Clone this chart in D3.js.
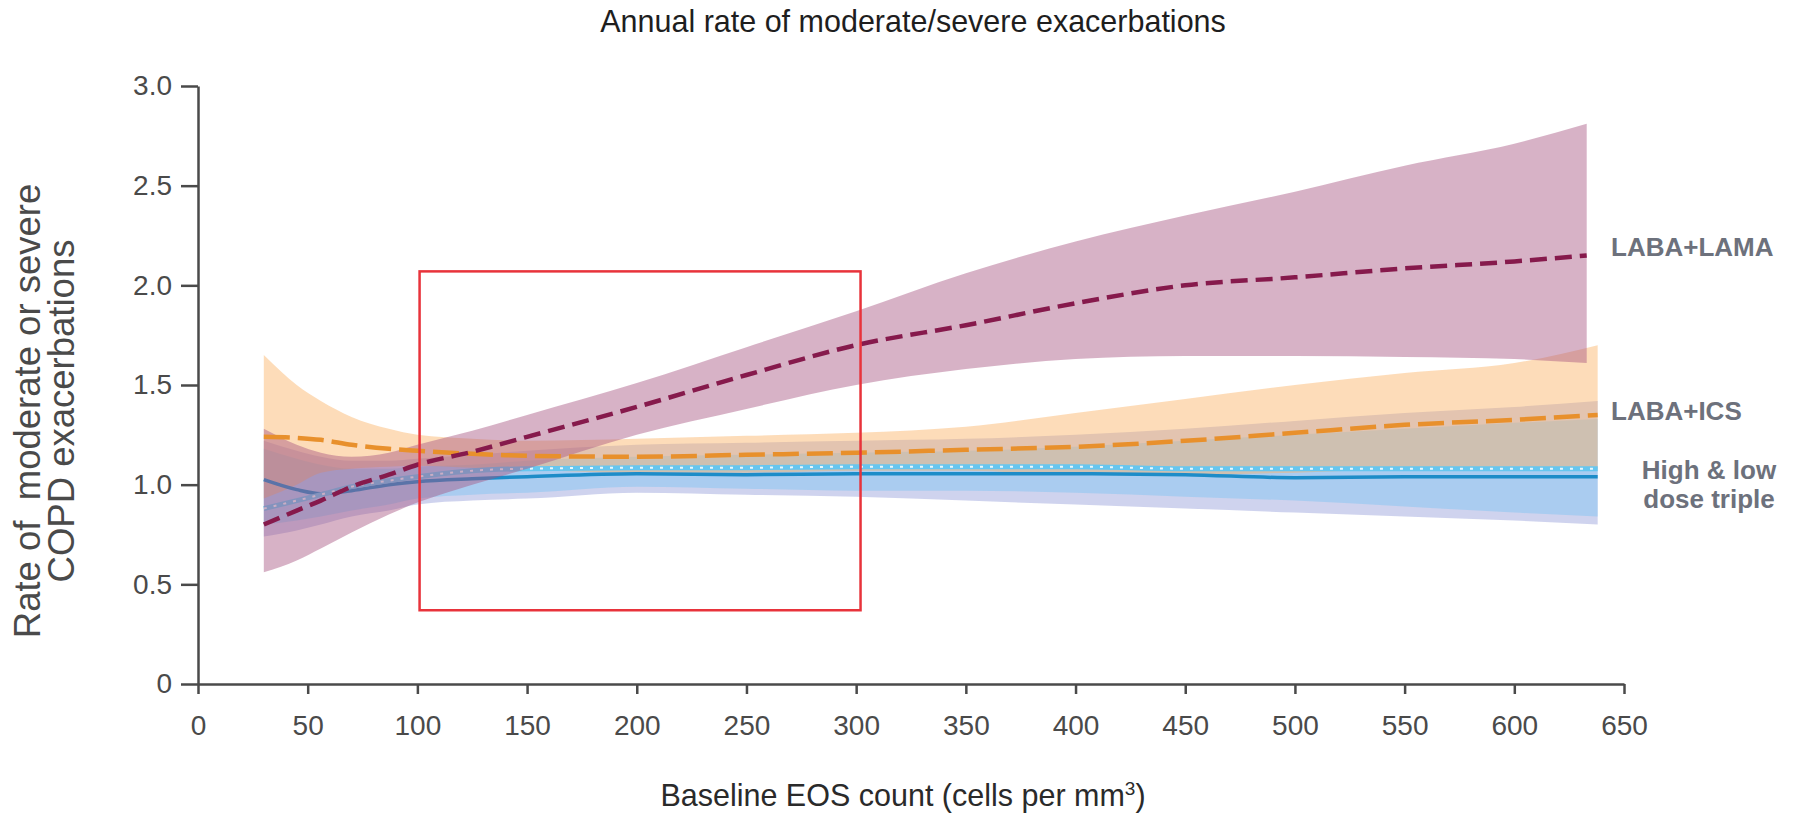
<!DOCTYPE html>
<html>
<head>
<meta charset="utf-8">
<script src="https://cdn.jsdelivr.net/npm/d3@7"></script>
<style>
  html, body { margin: 0; padding: 0; background: #ffffff; }
  svg { display: block; }
  text { font-family: "Liberation Sans", Arial, Helvetica, sans-serif; }
</style>
</head>
<body>
<svg id="chart" width="1793" height="814"></svg>
<script>
// Baseline EOS count grid (cells per mm3) for each model curve
const eosLama = [30, 45, 56, 70, 87, 100, 125, 150, 200, 250, 300, 350, 400, 450, 500, 550, 600, 633];
const eosOther = [30, 45, 56, 70, 87, 100, 125, 150, 200, 250, 300, 350, 400, 450, 500, 550, 600, 638];

// LABA+LAMA: modelled annual rate and 95% CI
const lamaRate  = [0.80, 0.87, 0.92, 0.99, 1.05, 1.10, 1.165, 1.24, 1.39, 1.55, 1.70, 1.80, 1.91, 2.00, 2.04, 2.085, 2.12, 2.15];
const lamaUpper = [1.28, 1.20, 1.16, 1.14, 1.16, 1.20, 1.27, 1.35, 1.51, 1.69, 1.87, 2.06, 2.22, 2.35, 2.47, 2.60, 2.71, 2.81];
const lamaLower = [0.56, 0.62, 0.68, 0.76, 0.85, 0.91, 1.00, 1.08, 1.25, 1.38, 1.50, 1.58, 1.63, 1.645, 1.645, 1.64, 1.63, 1.61];

// LABA+ICS
const icsRate  = [1.24, 1.235, 1.225, 1.20, 1.18, 1.17, 1.155, 1.145, 1.14, 1.15, 1.16, 1.175, 1.19, 1.22, 1.26, 1.30, 1.325, 1.35];
const icsUpper = [1.65, 1.50, 1.42, 1.34, 1.28, 1.25, 1.23, 1.22, 1.23, 1.245, 1.26, 1.29, 1.36, 1.43, 1.50, 1.56, 1.61, 1.70];
const icsLower = [0.93, 1.00, 1.06, 1.08, 1.09, 1.095, 1.085, 1.075, 1.06, 1.06, 1.07, 1.07, 1.05, 1.05, 1.06, 1.08, 1.09, 1.08];

// High dose triple
const highRate  = [1.025, 0.975, 0.955, 0.97, 1.00, 1.015, 1.03, 1.04, 1.055, 1.05, 1.055, 1.055, 1.055, 1.05, 1.035, 1.04, 1.04, 1.04];
const highUpper = [1.18, 1.13, 1.10, 1.08, 1.08, 1.09, 1.10, 1.12, 1.14, 1.15, 1.16, 1.17, 1.19, 1.22, 1.25, 1.28, 1.31, 1.33];
const highLower = [0.80, 0.82, 0.84, 0.87, 0.90, 0.93, 0.95, 0.96, 0.99, 0.98, 0.97, 0.97, 0.96, 0.94, 0.92, 0.89, 0.86, 0.84];

// Low dose triple
const lowRate  = [0.88, 0.92, 0.95, 0.99, 1.02, 1.04, 1.07, 1.08, 1.085, 1.085, 1.09, 1.09, 1.09, 1.08, 1.08, 1.08, 1.08, 1.08];
const lowUpper = [1.22, 1.17, 1.14, 1.12, 1.12, 1.13, 1.15, 1.17, 1.20, 1.21, 1.22, 1.23, 1.25, 1.28, 1.32, 1.36, 1.39, 1.42];
const lowLower = [0.74, 0.77, 0.80, 0.84, 0.87, 0.90, 0.92, 0.93, 0.96, 0.95, 0.94, 0.92, 0.90, 0.88, 0.86, 0.84, 0.82, 0.80];

// Axis ticks
const xTickValues = [0, 50, 100, 150, 200, 250, 300, 350, 400, 450, 500, 550, 600, 650];
const yTickValues = [0, 0.5, 1.0, 1.5, 2.0, 2.5, 3.0];
const yTickLabels = ["0", "0.5", "1.0", "1.5", "2.0", "2.5", "3.0"];

// Highlighted EOS / rate window
const focusEos = [101, 302];
const focusRate = [0.37, 2.07];

// End-of-line labels
const seriesLabels = ["LABA+LAMA", "LABA+ICS", "High & low", "dose triple"];

const svg = d3.select("#chart");

const x = d3.scaleLinear().domain([0, 650]).range([198, 1624]);
const y = d3.scaleLinear().domain([0, 3]).range([684, 86]);

const zip = (xs, mid, lo, hi) => xs.map((v, i) => ({ x: v, m: mid[i], lo: lo[i], hi: hi[i] }));
const lama = zip(eosLama, lamaRate, lamaLower, lamaUpper);
const ics = zip(eosOther, icsRate, icsLower, icsUpper);
const high = zip(eosOther, highRate, highLower, highUpper);
const low = zip(eosOther, lowRate, lowLower, lowUpper);

const area = d3.area()
  .x(d => x(d.x)).y0(d => y(d.lo)).y1(d => y(d.hi))
  .curve(d3.curveMonotoneX);
const line = d3.line()
  .x(d => x(d.x)).y(d => y(d.m))
  .curve(d3.curveMonotoneX);

const plot = svg.append("g");

// confidence bands: triple therapy first, LABA+ICS laid over them
plot.append("path").datum(low).attr("d", area).attr("fill", "rgba(130,140,210,0.38)");
plot.append("path").datum(high).attr("d", area).attr("fill", "rgba(120,195,244,0.42)");
plot.append("path").datum(ics).attr("d", area).attr("fill", "rgba(250,178,100,0.45)");

// triple therapy lines
plot.append("path").datum(high).attr("d", line)
  .attr("fill", "none").attr("stroke", "#1d8cc8").attr("stroke-width", 3.5);
plot.append("path").datum(low).attr("d", line)
  .attr("fill", "none").attr("stroke", "#66c6ef").attr("stroke-width", 5);
plot.append("path").datum(low).attr("d", line)
  .attr("fill", "none").attr("stroke", "#ffffff").attr("stroke-width", 2)
  .attr("stroke-dasharray", "3,7").attr("opacity", 0.85);

// LABA+LAMA band on top of the triple curves
plot.append("path").datum(lama).attr("d", area).attr("fill", "rgba(166,84,128,0.45)");

// dashed mean lines
plot.append("path").datum(ics).attr("d", line)
  .attr("fill", "none").attr("stroke", "#e8902c").attr("stroke-width", 4.5)
  .attr("stroke-dasharray", "26,8");
plot.append("path").datum(lama).attr("d", line)
  .attr("fill", "none").attr("stroke", "#861a4c").attr("stroke-width", 4.5)
  .attr("stroke-dasharray", "17,8");

// highlight box
svg.append("rect")
  .attr("x", x(focusEos[0])).attr("y", y(focusRate[1]))
  .attr("width", x(focusEos[1]) - x(focusEos[0]))
  .attr("height", y(focusRate[0]) - y(focusRate[1]))
  .attr("fill", "none").attr("stroke", "#e8333b").attr("stroke-width", 2.5);

// axes
const axisColor = "#4a4a4a";
const xAxis = svg.append("g").attr("transform", `translate(0,${y(0)})`)
  .call(d3.axisBottom(x).tickValues(xTickValues).tickFormat(d3.format("d"))
    .tickSize(10).tickPadding(21).tickSizeOuter(0));
const yAxis = svg.append("g").attr("transform", `translate(${x(0)},0)`)
  .call(d3.axisLeft(y).tickValues(yTickValues).tickFormat((d, i) => yTickLabels[i])
    .tickSize(17).tickPadding(9).tickSizeOuter(0));
[xAxis, yAxis].forEach(g => {
  g.selectAll("path, line").attr("stroke", axisColor).attr("stroke-width", 2.5);
  g.selectAll("text").attr("fill", "#4a4a4a").attr("font-size", 28)
    .attr("font-family", "'Liberation Sans', Arial, sans-serif");
});

// title
svg.append("text").attr("x", 913).attr("y", 32).attr("text-anchor", "middle")
  .attr("font-size", 30.5).attr("fill", "#1e1e1e")
  .text("Annual rate of moderate/severe exacerbations");

// x-axis title
const xt = svg.append("text").attr("x", 903).attr("y", 806).attr("text-anchor", "middle")
  .attr("font-size", 30.5).attr("fill", "#2a2a2a");
xt.append("tspan").text("Baseline EOS count (cells per mm");
xt.append("tspan").attr("font-size", 19).attr("dy", -11).text("3");
xt.append("tspan").attr("dy", 11).text(")");

// y-axis title (two lines)
const yt = svg.append("g").attr("transform", "translate(0,411) rotate(-90)");
yt.append("text").attr("x", 0).attr("y", 40).attr("text-anchor", "middle")
  .attr("font-size", 36.5).attr("fill", "#4a4a4a").attr("xml:space", "preserve")
  .text("Rate of  moderate or severe");
yt.append("text").attr("x", 0).attr("y", 74).attr("text-anchor", "middle")
  .attr("font-size", 36.5).attr("fill", "#4a4a4a")
  .text("COPD exacerbations");

// series labels at the end of each curve
const labelColor = "#6d717c";
const lastLama = lama[lama.length - 1], lastIcs = ics[ics.length - 1], lastHigh = high[high.length - 1];
svg.append("text").attr("x", 1611).attr("y", y(lastLama.m) + 1)
  .attr("font-size", 26).attr("font-weight", "bold").attr("fill", labelColor).text(seriesLabels[0]);
svg.append("text").attr("x", 1611).attr("y", y(lastIcs.m) + 5)
  .attr("font-size", 26).attr("font-weight", "bold").attr("fill", labelColor).text(seriesLabels[1]);
svg.append("text").attr("x", 1709).attr("y", y(lastHigh.m) + 2).attr("text-anchor", "middle")
  .attr("font-size", 26).attr("font-weight", "bold").attr("fill", labelColor).text(seriesLabels[2]);
svg.append("text").attr("x", 1709).attr("y", y(lastHigh.m) + 31).attr("text-anchor", "middle")
  .attr("font-size", 26).attr("font-weight", "bold").attr("fill", labelColor).text(seriesLabels[3]);
</script>
</body>
</html>
